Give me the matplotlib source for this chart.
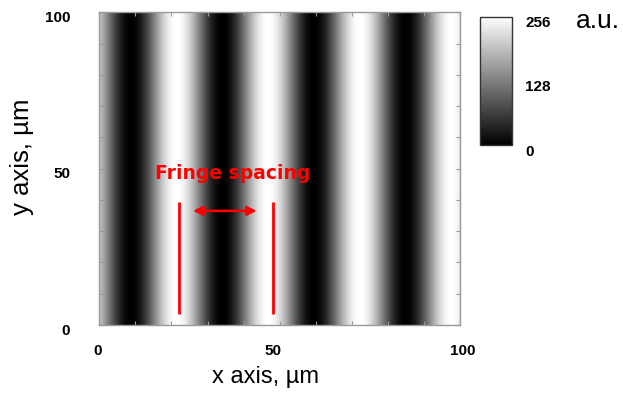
import numpy as np
import matplotlib
matplotlib.use("Agg")
import matplotlib.pyplot as plt
from matplotlib.transforms import ScaledTranslation

# ---- values ----
fringe_period = 25.4      # um, distance between bright fringes
bright_x0 = 21.5          # um, position of a bright fringe centre
i_max = 256               # a.u.
x_ticks = [0, 50, 100]
y_ticks = [0, 50, 100]
cbar_ticks = [0, 128, 256]
marker_x = [22.2, 48.1]   # red vertical markers
marker_y = [3.5, 39.4]
arrow_x = [26.0, 43.6]
arrow_y = 36.5
label_xy = (36.9, 48.3)

x = np.linspace(0, 100, 800)
y = np.linspace(0, 100, 2)
X, Y = np.meshgrid(x, y)
img = i_max / 2 * (1 + np.cos(2 * np.pi * (X - bright_x0) / fringe_period))

fig = plt.figure(figsize=(6.23, 3.94), dpi=100)
ax = fig.add_axes([0.1594, 0.1751, 0.579, 0.7937])
im = ax.imshow(img, extent=[0, 100, 0, 100], origin="lower", aspect="auto",
               cmap="gray", vmin=0, vmax=i_max, interpolation="bilinear")

for s in ax.spines.values():
    s.set_color("#9a9a9a")
    s.set_linewidth(1.0)

ax.set_xlim(0, 100)
ax.set_ylim(0, 100)
ax.set_xticks(x_ticks)
ax.set_yticks(y_ticks)
ax.set_xticks(np.arange(0, 101, 10), minor=True)
ax.set_yticks(np.arange(0, 101, 10), minor=True)
ax.tick_params(which="both", direction="in", top=True, right=True,
               length=3, width=0.8, color="#9a9a9a")
ax.tick_params(axis="x", pad=14)
ax.tick_params(axis="y", pad=21)
tick_font = dict(family="Liberation Sans", weight="bold", size=11)
ax.set_xticklabels([str(v) for v in x_ticks], **tick_font)
ax.set_yticklabels([str(v) for v in y_ticks], **tick_font)

# small per-label nudges (pixels) to sit where the original labels sit
x_shift = [-2, -7, 3]
for lab, dx in zip(ax.get_xticklabels(), x_shift):
    lab.set_transform(lab.get_transform() + ScaledTranslation(dx / 100, 0, fig.dpi_scale_trans))
for lab in ax.get_yticklabels():
    lab.set_transform(lab.get_transform() + ScaledTranslation(0, -4 / 100, fig.dpi_scale_trans))

fig.text(265 / 623, 1 - 377 / 394, "x axis, \u00b5m", family="Liberation Sans",
         size=17, ha="center", va="center")
fig.text(22 / 623, 1 - 157 / 394, "y axis, \u00b5m", family="Liberation Sans",
         size=18.5, ha="center", va="center", rotation=90)

# annotation
red = "#ff0000"
for mx in marker_x:
    ax.plot([mx, mx], marker_y, color=red, lw=2, solid_capstyle="butt")
ax.annotate("", xy=(arrow_x[1], arrow_y), xytext=(arrow_x[0], arrow_y),
            arrowprops=dict(arrowstyle="<|-|>", color=red, lw=1.8,
                            mutation_scale=14, shrinkA=0, shrinkB=0))
ax.text(label_xy[0], label_xy[1], "Fringe spacing", color=red, weight="bold",
        family="DejaVu Sans", size=13.5, ha="center", va="center")

# colorbar
cax = fig.add_axes([480 / 623, 1 - 145 / 394, 32 / 623, 128.3 / 394])
cb = fig.colorbar(im, cax=cax, ticks=cbar_ticks)
cb.outline.set_edgecolor("#333333")
cb.outline.set_linewidth(1.0)
cax.tick_params(length=0, pad=9.5)
cax.set_yticklabels([str(v) for v in cbar_ticks], **tick_font)
for lab in cax.get_yticklabels():
    lab.set_transform(lab.get_transform() + ScaledTranslation(0, -5 / 100, fig.dpi_scale_trans))
fig.text(598 / 623, 1 - 21 / 394, "a.u.", family="Liberation Sans", size=19,
         ha="center", va="center")

fig.savefig("out.png", dpi=100)
